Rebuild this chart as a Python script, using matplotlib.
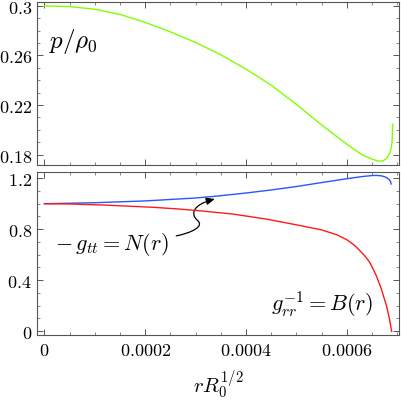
import matplotlib
matplotlib.use("Agg")
from matplotlib import pyplot as plt
from matplotlib.path import Path
from matplotlib.patches import FancyArrowPatch
from matplotlib.ticker import MultipleLocator

plt.rcParams['mathtext.fontset'] = 'cm'
plt.rcParams['font.family'] = ['DejaVu Serif']

# radius r R0^(1/2), in units of 1e-4
r_p = [0, 0.5, 1.0, 1.5, 2.0, 2.5, 3.0, 3.5, 4.0, 4.5, 5.0, 5.5, 6.0, 6.3,
       6.5, 6.62, 6.72, 6.80, 6.85, 6.88, 6.90, 6.91]
p_rho = [0.2998, 0.2993, 0.2972, 0.2930, 0.2866, 0.2790, 0.2704, 0.2605,
         0.2490, 0.2360, 0.2205, 0.2040, 0.1885, 0.1800, 0.1765, 0.1749,
         0.1750, 0.1775, 0.1810, 0.1850, 0.1910, 0.2046]

r_n = [0, 1.0, 2.0, 3.0, 3.5, 4.0, 4.5, 5.0, 5.5, 6.0, 6.3, 6.5, 6.6, 6.7,
       6.78, 6.84, 6.87, 6.88]
n_val = [1.0, 1.008, 1.022, 1.045, 1.063, 1.084, 1.108, 1.135, 1.166, 1.196,
         1.213, 1.221, 1.222, 1.218, 1.207, 1.190, 1.172, 1.155]

r_b = [0, 0.5, 1.17, 2.16, 2.69, 3.08, 3.74, 4.40, 5.06, 5.5, 5.8, 6.0,
       6.16, 6.26, 6.36, 6.46, 6.59, 6.69, 6.79, 6.85, 6.89]
b_val = [1.0, 0.998, 0.990, 0.972, 0.958, 0.945, 0.919, 0.880, 0.830, 0.795,
         0.757, 0.718, 0.672, 0.632, 0.590, 0.538, 0.432, 0.327, 0.196, 0.091,
         0.0]

x_ticks = [0, 0.0002, 0.0004, 0.0006]
top_yticks = [0.18, 0.22, 0.26, 0.3]
bot_yticks = [0, 0.4, 0.8, 1.2]

frame_col = '#555555'


def style(ax):
    for s in ax.spines.values():
        s.set_color(frame_col)
        s.set_linewidth(0.8)
    ax.tick_params(which='both', direction='in', top=True, right=True,
                   color=frame_col, labelsize=13, pad=4)
    ax.tick_params(which='major', length=4, width=0.7)
    ax.tick_params(which='minor', length=2, width=0.5)
    ax.set_xlim(-0.0000138, 0.000704)
    ax.set_xticks(x_ticks, labels=['$%g$' % t for t in x_ticks])
    ax.xaxis.set_minor_locator(MultipleLocator(0.00005))


def main():
    fig = plt.figure(figsize=(4.01, 4.02), dpi=100)
    ax1 = fig.add_axes([0.0935, 0.587, 0.902, 0.4055])
    ax2 = fig.add_axes([0.0935, 0.164, 0.902, 0.406])

    ax1.plot([v * 1e-4 for v in r_p], p_rho, color='#80ff00', lw=1.0)
    style(ax1)
    ax1.set_ylim(0.1717, 0.3030)
    ax1.set_yticks(top_yticks, labels=['$%g$' % t for t in top_yticks])
    ax1.yaxis.set_minor_locator(MultipleLocator(0.01))
    ax1.tick_params(labelbottom=False)
    ax1.text(0.000057, 0.272, r'$p/\rho_0$', fontsize=18, ha='center', va='center')

    ax2.plot([v * 1e-4 for v in r_n], n_val, color='#2a55ff', lw=1.0)
    ax2.plot([v * 1e-4 for v in r_b], b_val, color='#ff1a1a', lw=1.0)
    style(ax2)
    ax2.set_ylim(-0.03, 1.25)
    ax2.set_yticks(bot_yticks, labels=['$%g$' % t for t in bot_yticks])
    ax2.yaxis.set_minor_locator(MultipleLocator(0.1))

    ax2.text(0.000133, 0.69, r'$-\,g_{tt} = N(r)$', fontsize=16, ha='center', va='center')
    ax2.text(0.000551, 0.21, r'$g_{rr}^{-1} = B(r)$', fontsize=16, ha='center', va='center')
    ax2.set_xlabel(r'$r R_0^{1/2}$', fontsize=15, labelpad=6)

    # wavy arrow pointing at N(r)
    verts = [(0.0002615, 0.748), (0.000290, 0.770), (0.000318, 0.820), (0.000304, 0.868),
             (0.000290, 0.915), (0.000292, 0.990), (0.000338, 1.037)]
    codes = [Path.MOVETO, Path.CURVE4, Path.CURVE4, Path.CURVE4,
             Path.CURVE4, Path.CURVE4, Path.CURVE4]
    arr = FancyArrowPatch(path=Path(verts, codes), arrowstyle='-|>,head_length=5,head_width=2.2',
                          color='black', lw=0.9)
    ax2.add_patch(arr)

    fig.savefig('out.png', dpi=100)


if __name__ == "__main__":
    main()
